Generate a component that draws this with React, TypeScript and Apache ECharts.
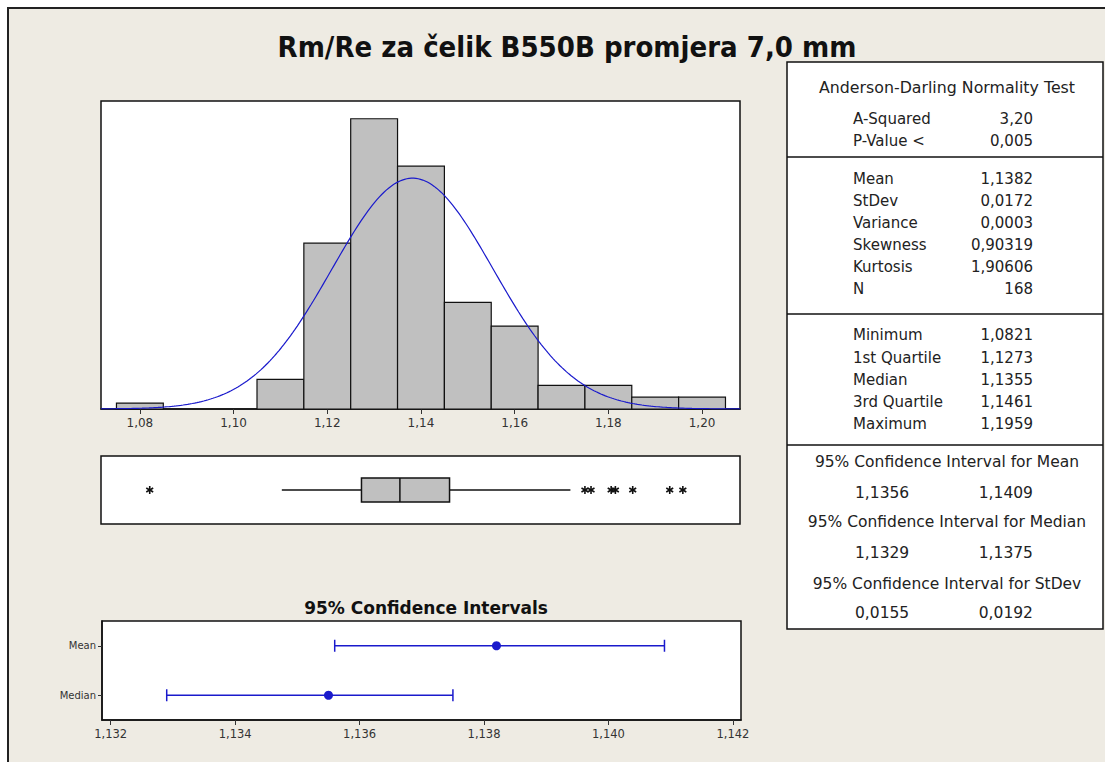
import React, { useEffect, useRef } from "react";
import * as echarts from "echarts";

// ---------- data ----------
const TITLE = "Rm/Re za čelik B550B promjera 7,0 mm";
const BIN_CENTERS = [1.08, 1.09, 1.1, 1.11, 1.12, 1.13, 1.14, 1.15, 1.16, 1.17, 1.18, 1.19, 1.2];
const BIN_COUNTS = [1, 0, 0, 5, 28, 49, 41, 18, 14, 4, 4, 2, 2];
const BIN_WIDTH = 0.01;
const HIST_TICKS = [1.08, 1.1, 1.12, 1.14, 1.16, 1.18, 1.2];
const FIT_MEAN = 1.1382;
const FIT_STDEV = 0.0172;
const FIT_N = 168;

// whisker low, Q1, median, Q3, whisker high
const BOX_STATS = [1.1103, 1.1273, 1.1355, 1.1461, 1.1719];
const OUTLIERS = [1.0821, 1.175, 1.1763, 1.1806, 1.1815, 1.1852, 1.1931, 1.1959];

const CI_TITLE = "95% Confidence Intervals";
const CI_CATEGORIES = ["Mean", "Median"];
const CI_LOW = [1.1356, 1.1329];
const CI_CENTER = [1.1382, 1.1355];
const CI_HIGH = [1.1409, 1.1375];
const CI_TICKS = [1.132, 1.134, 1.136, 1.138, 1.14, 1.142];

const AD_TITLE = "Anderson-Darling Normality Test";
const AD_LABELS = ["A-Squared", "P-Value <"];
const AD_VALUES = ["3,20", "0,005"];
const DESC_LABELS = ["Mean", "StDev", "Variance", "Skewness", "Kurtosis", "N"];
const DESC_VALUES = ["1,1382", "0,0172", "0,0003", "0,90319", "1,90606", "168"];
const QUART_LABELS = ["Minimum", "1st Quartile", "Median", "3rd Quartile", "Maximum"];
const QUART_VALUES = ["1,0821", "1,1273", "1,1355", "1,1461", "1,1959"];
const CI_TABLE_TITLES = [
  "95% Confidence Interval for Mean",
  "95% Confidence Interval for Median",
  "95% Confidence Interval for StDev",
];
const CI_TABLE_LOW = ["1,1356", "1,1329", "0,0155"];
const CI_TABLE_HIGH = ["1,1409", "1,1375", "0,0192"];

// ---------- style ----------
const FONT = "'DejaVu Sans', Verdana, sans-serif";
const TITLE_FONT = "'DejaVu Sans Condensed', 'DejaVu Sans', sans-serif";
const HIST_MIN = 1.0717;
const HIST_MAX = 1.2081;
const CI_MIN = 1.13186;
const CI_MAX = 1.14213;
const BLUE = "#1a1acc";

const comma = (v: number, d: number) => v.toFixed(d).replace(".", ",");

export default function App() {
  const ref = useRef<HTMLDivElement>(null);

  useEffect(() => {
    if (!ref.current) return;
    const chart = echarts.init(ref.current, undefined, { renderer: "svg" });

    const histData = BIN_CENTERS.map((c, i) => [c - BIN_WIDTH / 2, c + BIN_WIDTH / 2, BIN_COUNTS[i]]).filter(
      (d) => d[2] > 0
    );

    // fitted normal curve from displayed mean / stdev
    const fit: number[][] = [];
    const scale = FIT_N * BIN_WIDTH;
    for (let k = 0; k <= 280; k++) {
      const x = HIST_MIN + ((HIST_MAX - HIST_MIN) * k) / 280;
      const z = (x - FIT_MEAN) / FIT_STDEV;
      fit.push([x, (scale * Math.exp(-0.5 * z * z)) / (FIT_STDEV * Math.sqrt(2 * Math.PI))]);
    }

    const ciData = CI_CATEGORIES.map((_, i) => [CI_LOW[i], CI_CENTER[i], CI_HIGH[i], i]);

    // table graphics
    const g: any[] = [];
    const tX = 787, tY = 62, tW = 316, tH = 567;
    g.push({ type: "rect", shape: { x: tX, y: tY, width: tW, height: tH }, style: { fill: "#fff", stroke: "#111", lineWidth: 1.5 } });
    [157, 314, 445].forEach((y) =>
      g.push({ type: "line", shape: { x1: tX, y1: y, x2: tX + tW, y2: y }, style: { stroke: "#111", lineWidth: 1.5 } })
    );
    const txt = (text: string, x: number, y: number, align: string, size = 15, weight = "normal") =>
      g.push({
        type: "text",
        x,
        y,
        style: { text, fontFamily: FONT, fontSize: size, fontWeight: weight, fill: "#222", textAlign: align, textVerticalAlign: "middle" },
      });
    const LX = 853, RX = 1033, CX = 947;
    txt(AD_TITLE, CX, 87, "center", 15.8);
    const adY = [119, 141];
    AD_LABELS.forEach((l, i) => { txt(l, LX, adY[i], "left"); txt(AD_VALUES[i], RX, adY[i], "right"); });
    const dY = [179, 200.5, 222.5, 244.5, 266.5, 289];
    DESC_LABELS.forEach((l, i) => { txt(l, LX, dY[i], "left"); txt(DESC_VALUES[i], RX, dY[i], "right"); });
    const qY = [335, 357.5, 379.5, 401.5, 423.5];
    QUART_LABELS.forEach((l, i) => { txt(l, LX, qY[i], "left"); txt(QUART_VALUES[i], RX, qY[i], "right"); });
    const ctY = [461.5, 521.5, 583.5];
    const cvY = [493, 553, 613];
    CI_TABLE_TITLES.forEach((t, i) => {
      txt(t, CX, ctY[i], "center", 15.5);
      txt(CI_TABLE_LOW[i], 855, cvY[i], "left", 15.5);
      txt(CI_TABLE_HIGH[i], RX, cvY[i], "right", 15.5);
    });

    const option: any = {
      animation: false,
      backgroundColor: "transparent",
      title: [
        {
          text: TITLE,
          left: 562,
          top: 27,
          textAlign: "center",
          textStyle: { fontFamily: TITLE_FONT, fontSize: 29, fontWeight: "bold", color: "#111" },
        },
        {
          text: CI_TITLE,
          left: 421,
          top: 594,
          textAlign: "center",
          textStyle: { fontFamily: FONT, fontSize: 17, fontWeight: "bold", color: "#111" },
        },
      ],
      grid: [
        { left: 101, top: 101, width: 639, height: 308, show: true, backgroundColor: "#fff", borderColor: "#111", borderWidth: 1.5 },
        { left: 101, top: 456, width: 639, height: 68, show: true, backgroundColor: "#fff", borderColor: "#111", borderWidth: 1.5 },
        { left: 102, top: 621, width: 639, height: 99, show: true, backgroundColor: "#fff", borderColor: "#111", borderWidth: 1.5 },
      ],
      xAxis: [
        {
          gridIndex: 0,
          type: "value",
          min: HIST_MIN,
          max: HIST_MAX,
          splitLine: { show: false },
          axisLine: { show: true, lineStyle: { color: "#111", width: 1.5 } },
          axisTick: { show: true, length: 5, lineStyle: { color: "#333" }, customValues: HIST_TICKS },
          axisLabel: { customValues: HIST_TICKS, formatter: (v: number) => comma(v, 2), fontFamily: FONT, fontSize: 12, color: "#333", margin: 8 },
        },
        { gridIndex: 1, type: "value", min: HIST_MIN, max: HIST_MAX, show: false, splitLine: { show: false } },
        {
          gridIndex: 2,
          type: "value",
          min: CI_MIN,
          max: CI_MAX,
          splitLine: { show: false },
          axisLine: { show: true, lineStyle: { color: "#111", width: 1.5 } },
          axisTick: { show: true, length: 5, lineStyle: { color: "#333" }, customValues: CI_TICKS },
          axisLabel: { customValues: CI_TICKS, formatter: (v: number) => comma(v, 3), fontFamily: FONT, fontSize: 11.5, color: "#333", margin: 8 },
        },
      ],
      yAxis: [
        { gridIndex: 0, type: "value", min: 0, max: 52, show: false, splitLine: { show: false } },
        { gridIndex: 1, type: "value", min: 0, max: 1, show: false, splitLine: { show: false } },
        {
          gridIndex: 2,
          type: "category",
          data: CI_CATEGORIES,
          inverse: true,
          axisLine: { show: true, lineStyle: { color: "#111", width: 1.5 } },
          axisTick: { show: true, length: 4, alignWithLabel: true, lineStyle: { color: "#333" } },
          axisLabel: { fontFamily: FONT, fontSize: 10, color: "#333", margin: 6 },
          splitLine: { show: false },
        },
      ],
      series: [
        {
          type: "custom",
          xAxisIndex: 0,
          yAxisIndex: 0,
          data: histData,
          encode: { x: [0, 1], y: 2 },
          z: 2,
          renderItem: (_p: any, api: any) => {
            const a = api.coord([api.value(0), api.value(2)]);
            const b = api.coord([api.value(1), 0]);
            return {
              type: "rect",
              shape: { x: a[0], y: a[1], width: b[0] - a[0], height: b[1] - a[1] },
              style: { fill: "#c0c0c0", stroke: "#111", lineWidth: 1.2 },
            };
          },
        },
        {
          type: "line",
          xAxisIndex: 0,
          yAxisIndex: 0,
          data: fit,
          showSymbol: false,
          symbol: "none",
          z: 3,
          lineStyle: { color: BLUE, width: 1.2 },
        },
        {
          type: "custom",
          xAxisIndex: 1,
          yAxisIndex: 1,
          data: [BOX_STATS],
          encode: { x: [0, 1, 2, 3, 4] },
          renderItem: (_p: any, api: any) => {
            const y = api.coord([0, 0.5])[1];
            const px = [0, 1, 2, 3, 4].map((i) => api.coord([api.value(i), 0.5])[0]);
            const h = 24;
            const ls = { stroke: "#111", lineWidth: 1.5 };
            return {
              type: "group",
              children: [
                { type: "line", shape: { x1: px[0], y1: y, x2: px[1], y2: y }, style: ls },
                { type: "line", shape: { x1: px[3], y1: y, x2: px[4], y2: y }, style: ls },
                { type: "rect", shape: { x: px[1], y: y - h / 2, width: px[3] - px[1], height: h }, style: { fill: "#c0c0c0", stroke: "#111", lineWidth: 1.5 } },
                { type: "line", shape: { x1: px[2], y1: y - h / 2, x2: px[2], y2: y + h / 2 }, style: ls },
              ],
            };
          },
        },
        {
          type: "custom",
          xAxisIndex: 1,
          yAxisIndex: 1,
          data: OUTLIERS.map((v) => [v, 0.5]),
          encode: { x: 0, y: 1 },
          renderItem: (_p: any, api: any) => {
            const c = api.coord([api.value(0), api.value(1)]);
            const r = 4;
            const ls = { stroke: "#111", lineWidth: 1.6 };
            const arm = (ang: number) => ({
              type: "line",
              shape: {
                x1: c[0] - r * Math.sin(ang),
                y1: c[1] - r * Math.cos(ang),
                x2: c[0] + r * Math.sin(ang),
                y2: c[1] + r * Math.cos(ang),
              },
              style: ls,
            });
            return { type: "group", children: [arm(0), arm(Math.PI / 3), arm(-Math.PI / 3)] };
          },
        },
        {
          type: "custom",
          xAxisIndex: 2,
          yAxisIndex: 2,
          data: ciData,
          encode: { x: [0, 1, 2], y: 3 },
          renderItem: (_p: any, api: any) => {
            const cat = api.value(3);
            const lo = api.coord([api.value(0), cat]);
            const mid = api.coord([api.value(1), cat]);
            const hi = api.coord([api.value(2), cat]);
            const y = lo[1];
            const cap = 6;
            const ls = { stroke: BLUE, lineWidth: 1.5 };
            return {
              type: "group",
              children: [
                { type: "line", shape: { x1: lo[0], y1: y, x2: hi[0], y2: y }, style: ls },
                { type: "line", shape: { x1: lo[0], y1: y - cap, x2: lo[0], y2: y + cap }, style: ls },
                { type: "line", shape: { x1: hi[0], y1: y - cap, x2: hi[0], y2: y + cap }, style: ls },
                { type: "circle", shape: { cx: mid[0], cy: y, r: 4.5 }, style: { fill: BLUE } },
              ],
            };
          },
        },
      ],
      graphic: g,
    };

    chart.setOption(option);
    return () => chart.dispose();
  }, []);

  return (
    <div style={{ position: "fixed", left: 0, top: 0, width: 1105, height: 762, background: "#fff", overflow: "hidden" }}>
      <div
        style={{
          position: "absolute",
          left: 7,
          top: 7,
          width: 1110,
          height: 770,
          background: "#eeebe3",
          borderLeft: "2px solid #222",
          borderTop: "2px solid #222",
        }}
      />
      <div ref={ref} style={{ position: "absolute", left: 0, top: 0, width: 1105, height: 762 }} />
    </div>
  );
}
